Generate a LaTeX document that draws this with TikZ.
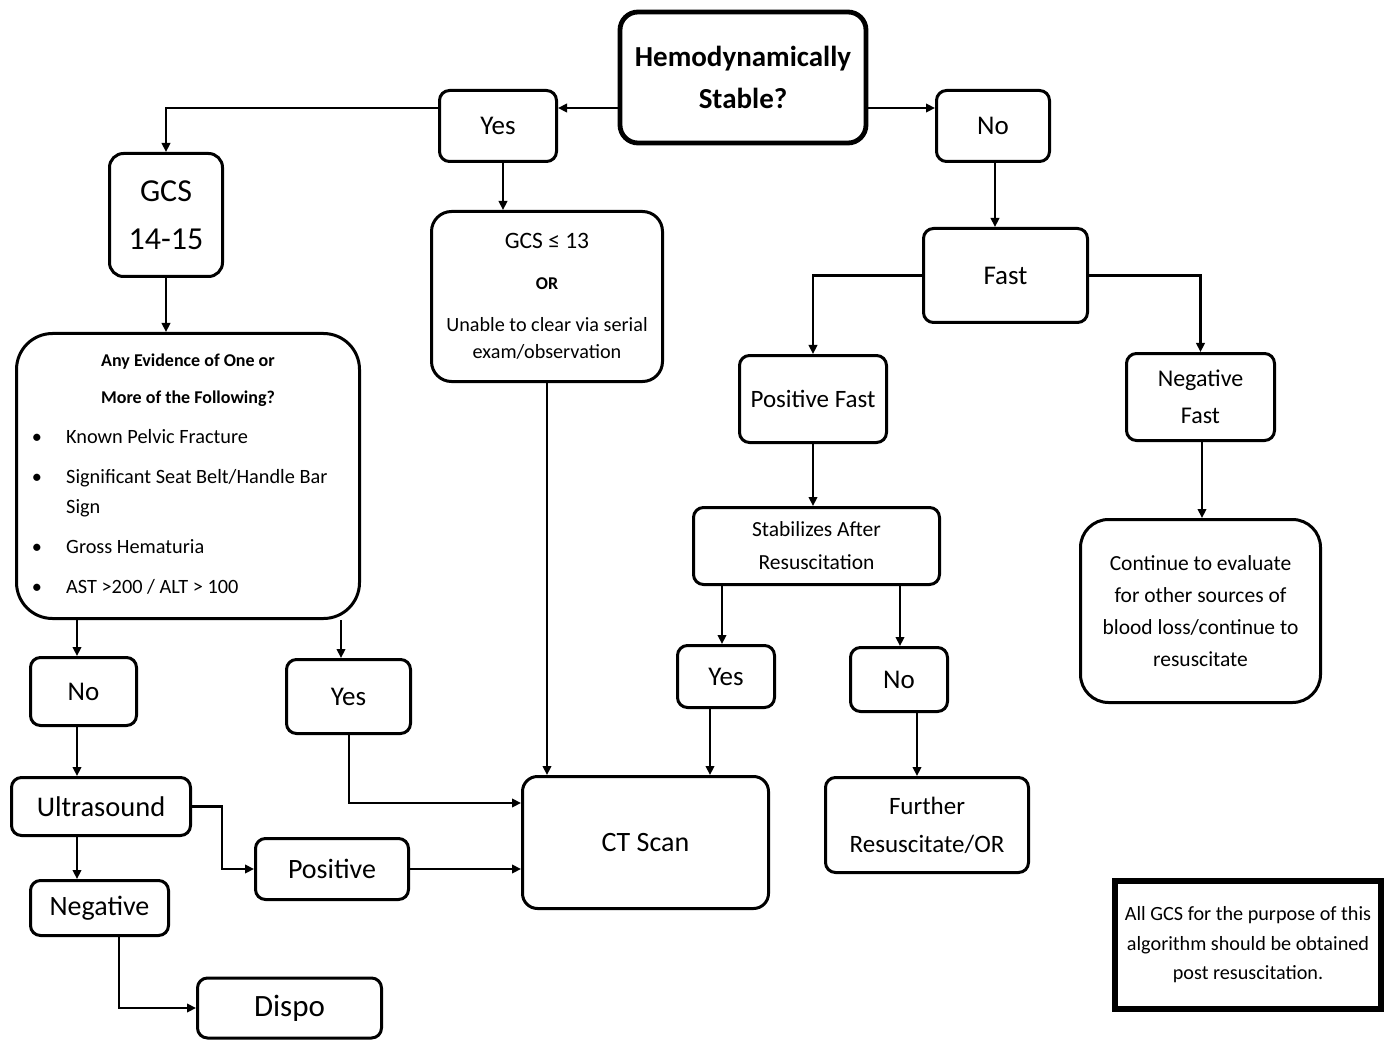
\documentclass[tikz,border=0pt]{standalone}
\usepackage{fontspec}
\setmainfont{Carlito}
\usetikzlibrary{arrows.meta}
\newcommand{\fsz}[2]{\fontsize{#1}{#2}\selectfont}
\tikzset{
  bx/.style={draw, line width=3pt, rounded corners=10pt, inner sep=0pt, align=center},
  arr/.style={line width=2.8pt, -{Triangle[length=9pt,width=8.5pt]}},
  txt/.style={inner sep=0pt, anchor=base},
  itm/.style={inner sep=0pt, anchor=base west, font=\fsz{20.3}{24}},
  bul/.style={inner sep=0pt, anchor=base, font=\fsz{20.3}{24}},
}
\begin{document}
\begin{tikzpicture}[x=1pt,y=-1pt]
\useasboundingbox (0,0) rectangle (1386,1040);
% nodes
\node[bx, line width=4.8pt, rounded corners=18pt, minimum width=246pt, minimum height=131pt, font={\bfseries\fsz{29}{42}}] (hemo) at (743,77.5) {Hemodynamically\\Stable?};
\node[bx, minimum width=117pt, minimum height=71pt, font={\fsz{27}{32}}] (yes1) at (498,126) {Yes};
\node[bx, minimum width=113pt, minimum height=71pt, font={\fsz{27}{32}}] (no1) at (993,126) {No};
\node[bx, rounded corners=14pt, minimum width=113pt, minimum height=123pt, font={\fsz{32}{48}}] (gcs1) at (166,215) {GCS\\14-15};
\node[bx, rounded corners=20pt, minimum width=231pt, minimum height=170pt] (gcs13) at (547,296.5) {};
\node[txt, font={\fsz{23.5}{26}}] (g13a) at (547,248.5) {GCS ≤ 13};
\node[txt, font={\bfseries\fsz{18}{20}}] (g13b) at (547,290) {OR};
\node[txt, font={\fsz{20.2}{24}}] (g13c) at (547,331) {Unable to clear via serial};
\node[txt, font={\fsz{20.2}{24}}] (g13d) at (547,359) {exam/observation};
\node[bx, minimum width=164pt, minimum height=94pt, font={\fsz{27}{32}}] (fast) at (1005.5,275.5) {Fast};
\node[bx, minimum width=147pt, minimum height=87pt, font={\fsz{25}{30}}] (pf) at (813,399) {Positive Fast};
\node[bx, minimum width=148pt, minimum height=87pt, font={\fsz{24}{37}}] (nf) at (1200.5,397) {Negative\\Fast};
\node[bx, rounded corners=36pt, minimum width=343pt, minimum height=285pt] (ev) at (188,476) {};
\node[txt, font={\bfseries\fsz{18}{20}}] (ev1) at (188,366.5) {Any Evidence of One or};
\node[txt, font={\bfseries\fsz{18}{20}}] (ev2) at (188,403.5) {More of the Following?};
\node[bul] (b1) at (37,443.5) {•};
\node[itm] (i1) at (66,443.5) {Known Pelvic Fracture};
\node[bul] (b2) at (37,483.5) {•};
\node[itm] (i2) at (66,483.5) {Significant Seat Belt/Handle Bar};
\node[itm] (i2b) at (66,513.5) {Sign};
\node[bul] (b3) at (37,553.5) {•};
\node[itm] (i3) at (66,553.5) {Gross Hematuria};
\node[bul] (b4) at (37,593.5) {•};
\node[itm] (i4) at (66,593.5) {AST >200 / ALT > 100};
\node[bx, minimum width=246pt, minimum height=77pt, font={\fsz{21.5}{33}}] (stab) at (816.5,546) {Stabilizes After\\Resuscitation};
\node[bx, rounded corners=28pt, minimum width=240pt, minimum height=183pt, font={\fsz{21.5}{32}}] (cont) at (1200.5,611) {Continue to evaluate\\for other sources of\\blood loss/continue to\\resuscitate};
\node[bx, minimum width=106pt, minimum height=68pt, font={\fsz{27}{32}}] (no2) at (83.5,691.5) {No};
\node[bx, minimum width=124pt, minimum height=74pt, font={\fsz{27}{32}}] (yes2) at (348.5,696.5) {Yes};
\node[bx, minimum width=97pt, minimum height=62pt, font={\fsz{27}{32}}] (yes3) at (726,676.5) {Yes};
\node[bx, minimum width=97pt, minimum height=64pt, font={\fsz{27}{32}}] (no3) at (899,679.5) {No};
\node[bx, minimum width=179pt, minimum height=58pt, font={\fsz{28.5}{32}}] (us) at (101,806.5) {Ultrasound};
\node[bx, rounded corners=15pt, minimum width=246pt, minimum height=132pt, font={\fsz{28}{32}}] (ct) at (645.5,842.5) {CT Scan};
\node[bx, minimum width=203pt, minimum height=95pt, font={\fsz{25}{38}}] (fur) at (927,825) {Further\\Resuscitate/OR};
\node[bx, minimum width=153pt, minimum height=61pt, font={\fsz{28}{32}}] (pos) at (332,869) {Positive};
\node[bx, minimum width=138pt, minimum height=55pt, font={\fsz{28}{32}}] (neg) at (99.5,908) {Negative};
\node[bx, minimum width=184pt, minimum height=60pt, font={\fsz{31}{34}}] (dispo) at (289.5,1008) {Dispo};
\node[draw, line width=6pt, inner sep=0pt, align=center, minimum width=266pt, minimum height=128pt, font={\fsz{20.2}{29.5}}] (note) at (1248,945) {All GCS for the purpose of this\\algorithm should be obtained\\post resuscitation.};
% helper coordinates
\coordinate (yA) at (0,108);
\coordinate (xB) at (503,0);
\coordinate (x77) at (77,0);
\coordinate (x341) at (341,0);
\coordinate (x547) at (547,0);
\coordinate (x722) at (722,0);
\coordinate (x900) at (900,0);
\coordinate (x710) at (710,0);
\coordinate (x917) at (917,0);
\coordinate (x349) at (349,0);
\coordinate (y803) at (0,803);
\coordinate (x222) at (222,0);
\coordinate (x119) at (119,0);
\coordinate (x995) at (995,0);
\coordinate (x1202) at (1202,0);
% connectors
\draw[arr] (hemo.west |- yA) -- (yes1.east |- yA);
\draw[arr] (yes1.west |- yA) -- (gcs1.north |- yA) -- (gcs1.north);
\draw[arr] (yes1.south -| xB) -- (gcs13.north -| xB);
\draw[arr] (hemo.east |- yA) -- (no1.west |- yA);
\draw[arr] (no1.south -| x995) -- (fast.north -| x995);
\draw[arr] (fast.west) -| (pf.north);
\draw[arr] (fast.east) -| (nf.north);
\draw[arr] (gcs1.south) -- (ev.north -| gcs1.south);
\draw[arr] (pf.south) -- (stab.north -| pf.south);
\draw[arr] (nf.south -| x1202) -- (cont.north -| x1202);
\draw[arr] (ev.south -| x77) -- (no2.north -| x77);
\draw[arr] (ev.south -| x341) -- (yes2.north -| x341);
\draw[arr] (gcs13.south -| x547) -- (ct.north -| x547);
\draw[arr] (stab.south -| x722) -- (yes3.north -| x722);
\draw[arr] (stab.south -| x900) -- (no3.north -| x900);
\draw[arr] (yes3.south -| x710) -- (ct.north -| x710);
\draw[arr] (no3.south -| x917) -- (fur.north -| x917);
\draw[arr] (no2.south -| x77) -- (us.north -| x77);
\draw[arr] (yes2.south -| x349) |- (ct.west |- y803);
\draw[arr] (us.east) -- (x222 |- us.east) |- (pos.west);
\draw[arr] (pos.east) -- (ct.west |- pos.east);
\draw[arr] (us.south -| x77) -- (neg.north -| x77);
\draw[arr] (neg.south -| x119) |- (dispo.west);
\end{tikzpicture}
\end{document}
